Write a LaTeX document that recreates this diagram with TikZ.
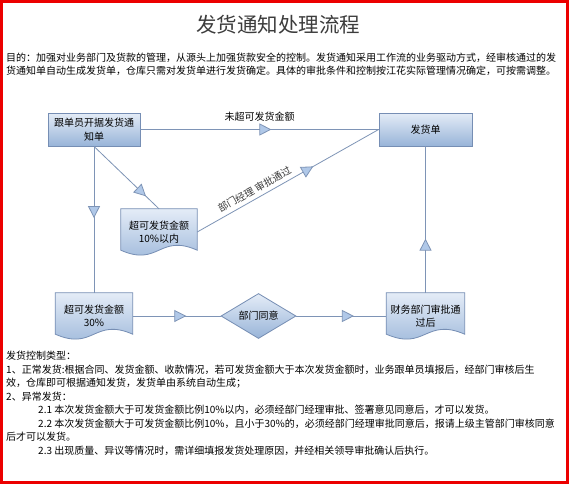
\documentclass[tikz,border=0pt]{standalone}
\usepackage{fontspec}
\setmainfont{Noto Sans CJK SC}
\usepackage{tikz}
\usetikzlibrary{shapes.geometric,arrows.meta,decorations.markings,backgrounds,calc}
\definecolor{boxtop}{RGB}{228,236,247}
\definecolor{boxbot}{RGB}{152,180,216}
\definecolor{boxline}{RGB}{118,142,180}
\definecolor{flowline}{RGB}{126,148,182}
\definecolor{tipfill}{RGB}{176,200,232}
\definecolor{framered}{RGB}{236,0,0}
\definecolor{titlegray}{RGB}{60,60,60}
\tikzset{
  box/.style={rectangle,draw=boxline,line width=0.8pt,top color=boxtop,bottom color=boxbot,
              align=center,font=\fontsize{10}{13.5}\selectfont,inner sep=2pt},
  decide/.style={diamond,aspect=1.67,draw=boxline,line width=0.8pt,top color=boxtop,
                 bottom color=boxbot,font=\fontsize{10}{13.5}\selectfont,inner sep=1pt,
                 minimum width=75pt,minimum height=45pt},
  docnode/.style={rectangle,align=center,font=\fontsize{10}{13.5}\selectfont,inner sep=1pt},
  docshape/.style={draw=boxline,line width=0.8pt,top color=boxtop,bottom color=boxbot},
  fl/.style={draw=flowline,line width=0.8pt,postaction={decorate},
             decoration={markings,mark=at position #1 with
               {\arrow{Triangle[length=12pt,width=12pt,fill=tipfill]}}}},
  lbl/.style={font=\fontsize{10}{12}\selectfont,inner sep=1pt},
  txt/.style={anchor=west,inner sep=0pt,font=\fontsize{10}{12}\selectfont},
}
% document outline with a wavy bottom, drawn round a docnode
\newcommand{\docbody}[1]{%
  \path[docshape] (#1.north west) -- (#1.north east) -- ($(#1.south east)+(0,-5)$)
    .. controls ($(#1.south)+(0,-22)$) and ($(#1.south)+(0,12)$) .. ($(#1.south west)+(0,-5)$)
    -- cycle;}

\begin{document}
\begin{tikzpicture}[x=1pt,y=-1pt]
  \useasboundingbox (0,0) rectangle (569,484);
  \begin{scope}[on background layer]
    \fill[white] (0,0) rectangle (569,484);
  \end{scope}
  \draw[framered,line width=3pt] (1.5,1.5) rectangle (567.5,482.5);
  % ── title and purpose ──
  \node[font=\fontsize{20.5}{24}\selectfont,text=titlegray] (title) at (278,25) {发货通知处理流程};
  \node[txt] (aim1) at (6,58)
    {目的：加强对业务部门及货款的管理，从源头上加强货款安全的控制。发货通知采用工作流的业务驱动方式，经审核通过的发};
  \node[txt] (aim2) at (6,71)
    {货通知单自动生成发货单，仓库只需对发货单进行发货确定。具体的审批条件和控制按江花实际管理情况确定，可按需调整。};
  % ── flow nodes ──
  \node[box,minimum width=92pt,minimum height=33pt] (issue) at (94,129.5) {跟单员开据发货通\\知单};
  \node[box,minimum width=93pt,minimum height=33pt] (bill)  at (425.5,129.5) {发货单};
  \node[docnode,minimum width=76pt,minimum height=46pt] (over10)  at (159,232) {超可发货金额\\10\%以内};
  \node[docnode,minimum width=77pt,minimum height=46pt] (over30)  at (94,316) {超可发货金额\\30\%};
  \node[decide] (agree) at (258.5,316) {部门同意};
  \node[docnode,minimum width=78pt,minimum height=46pt] (finance) at (425.5,316) {财务部门审批通\\过后};
  \begin{scope}[on background layer]
    \foreach \d in {over10,over30,finance}{\docbody{\d}}
  \end{scope}
  % ── connectors ──
  \draw[fl=0.55] (issue.east) -- node[lbl,above=7pt] {未超可发货金额} (bill.west);
  \draw[fl=0.8]  (issue.south) -- (over10.north);
  \draw[fl=0.49] (issue.south) -- (over30.north);
  \draw[fl=0.64] (over10.east) -- node[lbl,sloped,above=3pt,pos=0.34,text=titlegray]
        {部门经理 审批通过} (bill.west);
  \draw[fl=0.61] (over30.east) -- (agree.west);
  \draw[fl=0.64] (agree.east) -- (finance.west);
  \draw[fl=0.37] (finance.north) -- (bill.south);
  % ── control types ──
  \foreach \n/\x/\y/\t in {
      1/6/356/{发货控制类型：},
      2/6/370/{1、正常发货:根据合同、发货金额、收款情况，若可发货金额大于本次发货金额时，业务跟单员填报后，经部门审核后生},
      3/6/383/{效，仓库即可根据通知发货，发货单由系统自动生成；},
      4/6/397/{2、异常发货：},
      5/38/410/{2.1 本次发货金额大于可发货金额比例10\%以内，必须经部门经理审批、签署意见同意后，才可以发货。},
      6/38/424/{2.2 本次发货金额大于可发货金额比例10\%，且小于30\%的，必须经部门经理审批同意后，报请上级主管部门审核同意},
      7/6/437/{后才可以发货。},
      8/38/451/{2.3 出现质量、异议等情况时，需详细填报发货处理原因，并经相关领导审批确认后执行。}}{
    \node[txt] (rule\n) at (\x,\y) {\t};
  }
\end{tikzpicture}
\end{document}
